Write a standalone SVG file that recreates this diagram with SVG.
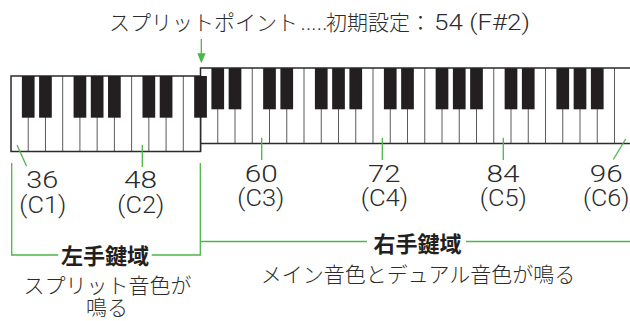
<svg xmlns="http://www.w3.org/2000/svg" width="630" height="321" viewBox="0 0 630 321">
<style>
.jp{font-family:"Noto Sans CJK JP","Noto Sans",sans-serif;font-weight:300;font-size:21px;fill:#2b2b2b}
.jpb{font-family:"Noto Sans CJK JP","Noto Sans",sans-serif;font-weight:700;font-size:22px;fill:#231f20}
.num{font-family:Roboto,"Liberation Sans",sans-serif;font-weight:300;font-size:23px;fill:#2b2b2b}
.lat{font-family:Roboto,"Liberation Sans",sans-serif;font-weight:300;font-size:22px;fill:#2b2b2b}
.wk{stroke:#5a5a5a;stroke-width:1}
.bk{fill:#231f20}
.frame{fill:none;stroke:#2b2b2b;stroke-width:1.5}
.g{fill:none;stroke:#4cb748;stroke-width:1.3}
</style>
<defs>
<rect id="bl" class="bk" x="-6.35" y="0" width="12.7" height="41.7"/>
<rect id="br" class="bk" x="-6.35" y="0" width="12.7" height="41.3"/>
</defs>

<g id="title">
<text class="jp" y="30"><tspan x="109">スプリットポイント</tspan></text>
<text class="lat" x="300.5" y="30" textLength="27" lengthAdjust="spacing">.....</text>
<text class="jp" x="326" y="30">初期設定：</text>
<text class="lat" x="434" y="30" textLength="96" lengthAdjust="spacingAndGlyphs">54 (F#2)</text>
</g>

<g id="split-arrow">
<line class="g" x1="201.3" y1="39" x2="201.3" y2="55"/>
<polygon points="197.3,53.3 205.7,53.3 201.3,63.3" fill="#4cb748"/>
</g>

<g id="right-keyboard">
<rect x="200.5" y="68" width="440" height="75.5" fill="#fff"/>
<g class="wk">
<line x1="217.75" y1="68" x2="217.75" y2="143.5"/><line x1="235" y1="68" x2="235" y2="143.5"/>
<line x1="252.25" y1="68" x2="252.25" y2="143.5"/><line x1="269.5" y1="68" x2="269.5" y2="143.5"/>
<line x1="286.75" y1="68" x2="286.75" y2="143.5"/><line x1="304" y1="68" x2="304" y2="143.5"/>
<line x1="321.25" y1="68" x2="321.25" y2="143.5"/><line x1="338.5" y1="68" x2="338.5" y2="143.5"/>
<line x1="355.75" y1="68" x2="355.75" y2="143.5"/><line x1="373" y1="68" x2="373" y2="143.5"/>
<line x1="390.25" y1="68" x2="390.25" y2="143.5"/><line x1="407.5" y1="68" x2="407.5" y2="143.5"/>
<line x1="424.75" y1="68" x2="424.75" y2="143.5"/><line x1="442" y1="68" x2="442" y2="143.5"/>
<line x1="459.25" y1="68" x2="459.25" y2="143.5"/><line x1="476.5" y1="68" x2="476.5" y2="143.5"/>
<line x1="493.75" y1="68" x2="493.75" y2="143.5"/><line x1="511" y1="68" x2="511" y2="143.5"/>
<line x1="528.25" y1="68" x2="528.25" y2="143.5"/><line x1="545.5" y1="68" x2="545.5" y2="143.5"/>
<line x1="562.75" y1="68" x2="562.75" y2="143.5"/><line x1="580" y1="68" x2="580" y2="143.5"/>
<line x1="597.25" y1="68" x2="597.25" y2="143.5"/><line x1="614.5" y1="68" x2="614.5" y2="143.5"/>
</g>
<g>
<use href="#br" x="217.75" y="68"/><use href="#br" x="235" y="68"/>
<use href="#br" x="269.5" y="68"/><use href="#br" x="286.75" y="68"/>
<use href="#br" x="321.25" y="68"/><use href="#br" x="338.5" y="68"/><use href="#br" x="355.75" y="68"/>
<use href="#br" x="390.25" y="68"/><use href="#br" x="407.5" y="68"/>
<use href="#br" x="442" y="68"/><use href="#br" x="459.25" y="68"/><use href="#br" x="476.5" y="68"/>
<use href="#br" x="511" y="68"/><use href="#br" x="528.25" y="68"/>
<use href="#br" x="562.75" y="68"/><use href="#br" x="580" y="68"/><use href="#br" x="597.25" y="68"/>
</g>
<polyline class="frame" points="632,68 200.5,68 200.5,151.5"/>
<line class="frame" x1="200.5" y1="143.5" x2="632" y2="143.5"/>
</g>

<g id="left-keyboard">
<rect x="11" y="76" width="189.5" height="75.5" fill="#fff"/>
<g class="wk">
<line x1="28.23" y1="76" x2="28.23" y2="151.5"/><line x1="45.46" y1="76" x2="45.46" y2="151.5"/>
<line x1="62.69" y1="76" x2="62.69" y2="151.5"/><line x1="79.92" y1="76" x2="79.92" y2="151.5"/>
<line x1="97.15" y1="76" x2="97.15" y2="151.5"/><line x1="114.38" y1="76" x2="114.38" y2="151.5"/>
<line x1="131.61" y1="76" x2="131.61" y2="151.5"/><line x1="148.84" y1="76" x2="148.84" y2="151.5"/>
<line x1="166.07" y1="76" x2="166.07" y2="151.5"/><line x1="183.3" y1="76" x2="183.3" y2="151.5"/>
</g>
<rect class="frame" x="11" y="76" width="189.5" height="75.5"/>
<g>
<use href="#bl" x="28.23" y="76"/><use href="#bl" x="45.46" y="76"/>
<use href="#bl" x="79.92" y="76"/><use href="#bl" x="97.15" y="76"/><use href="#bl" x="114.38" y="76"/>
<use href="#bl" x="148.84" y="76"/><use href="#bl" x="166.07" y="76"/>
<use href="#bl" x="200.53" y="76"/>
</g>
</g>

<g id="connectors">
<line class="g" x1="17" y1="145" x2="26.5" y2="166"/>
<line class="g" x1="142.3" y1="145" x2="142.3" y2="167"/>
<line class="g" x1="261.7" y1="137.7" x2="261.7" y2="160"/>
<line class="g" x1="382.3" y1="137.7" x2="382.3" y2="160"/>
<line class="g" x1="503.3" y1="137.7" x2="503.3" y2="160"/>
<line class="g" x1="625.7" y1="139" x2="613.3" y2="159.5"/>
<polyline class="g" points="58.3,255 11.7,255 11.7,163"/>
<polyline class="g" points="151.7,255 200.3,255 200.3,163"/>
<line class="g" x1="200.3" y1="241.5" x2="367" y2="241.5"/>
<line class="g" x1="466" y1="241.5" x2="632" y2="241.5"/>
</g>

<g id="label-36"><text class="num" x="26.3" y="188.3" textLength="32" lengthAdjust="spacingAndGlyphs">36</text><text class="num" x="19.3" y="212.7" textLength="47" lengthAdjust="spacingAndGlyphs">(C1)</text></g>
<g id="label-48"><text class="num" x="124" y="188.3" textLength="33" lengthAdjust="spacingAndGlyphs">48</text><text class="num" x="117.3" y="212.7" textLength="47" lengthAdjust="spacingAndGlyphs">(C2)</text></g>
<g id="label-60"><text class="num" x="244.7" y="181.5" textLength="33" lengthAdjust="spacingAndGlyphs">60</text><text class="num" x="237.3" y="206" textLength="47" lengthAdjust="spacingAndGlyphs">(C3)</text></g>
<g id="label-72"><text class="num" x="368" y="181.5" textLength="32.5" lengthAdjust="spacingAndGlyphs">72</text><text class="num" x="360.7" y="206" textLength="47.5" lengthAdjust="spacingAndGlyphs">(C4)</text></g>
<g id="label-84"><text class="num" x="486.5" y="181.5" textLength="33" lengthAdjust="spacingAndGlyphs">84</text><text class="num" x="479.8" y="206" textLength="47" lengthAdjust="spacingAndGlyphs">(C5)</text></g>
<g id="label-96"><text class="num" x="589.8" y="181.5" textLength="33" lengthAdjust="spacingAndGlyphs">96</text><text class="num" x="583" y="206" textLength="46.5" lengthAdjust="spacingAndGlyphs">(C6)</text></g>

<g id="left-range">
<text class="jpb" x="105" y="264" text-anchor="middle">左手鍵域</text>
<text class="jp" text-anchor="middle"><tspan x="107.5" y="292.5">スプリット音色が</tspan><tspan x="107" y="314.5">鳴る</tspan></text>
</g>
<g id="right-range">
<text class="jpb" x="417.5" y="252" text-anchor="middle">右手鍵域</text>
<text class="jp" x="418" y="282" text-anchor="middle">メイン音色とデュアル音色が鳴る</text>
</g>
</svg>
